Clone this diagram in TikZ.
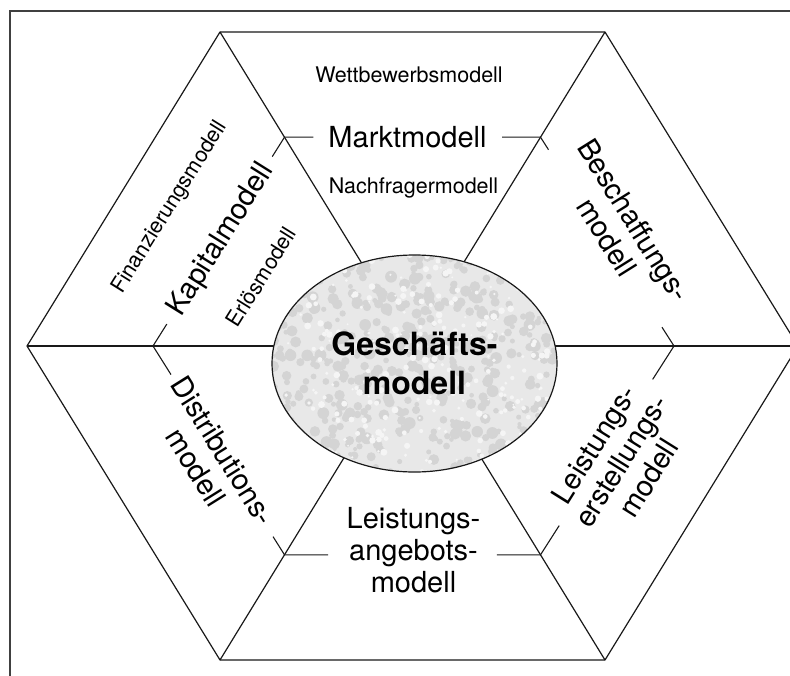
\documentclass[tikz,border=0pt]{standalone}
\usepackage{fontspec}
\setmainfont{TeX Gyre Heros}
\usetikzlibrary{shapes.geometric,calc}
\begin{document}
\begin{tikzpicture}[x=1pt,y=-1pt,
  hexline/.style={line width=1.2pt, line join=round, draw=black!90},
  bracket/.style={line width=1.1pt, draw=black!90},
  frameline/.style={line width=1.8pt, draw=black!75},
  mainlbl/.style={font=\fontsize{29}{32}\selectfont, align=center, inner sep=0pt},
  sublbl/.style={font=\fontsize{21.5}{24}\selectfont, inner sep=0pt},
  centerlbl/.style={ellipse, draw=black!90, line width=1.2pt, fill=black!9,
    minimum width=285pt, minimum height=217pt, inner sep=0pt, align=center,
    font=\bfseries\fontsize{32}{39}\selectfont},
]
\useasboundingbox (0,0) rectangle (790,675);
\clip (0,0) rectangle (790,675);
\fill[white] (0,0) rectangle (790,675);

% outer frame
\draw[frameline] (10,11) rectangle (830,720);

% hexagon
\coordinate (hc)  at (412.5,346);
\coordinate (vTL) at (220,32);
\coordinate (vTR) at (605,32);
\coordinate (vR)  at (798,346);
\coordinate (vBR) at (605,660);
\coordinate (vBL) at (220,660);
\coordinate (vL)  at (27,346);
\draw[hexline] (vTL) -- (vTR) -- (vR) -- (vBR) -- (vBL) -- (vL) -- cycle;
\foreach \v in {vTL,vTR,vR,vBR,vBL,vL} \draw[hexline] (\v) -- (hc);

% central ellipse
\node[centerlbl, path picture={
    \pgfmathsetseed{11}
    \foreach \i in {1,...,520}{
      \pgfmathsetmacro{\px}{290*rnd-145}
      \pgfmathsetmacro{\py}{222*rnd-111}
      \pgfmathsetmacro{\pr}{2+4*rnd}
      \fill[black!17] ([shift={(\px,\py)}]path picture bounding box.center) circle[radius=\pr];
    }
    \foreach \i in {1,...,300}{
      \pgfmathsetmacro{\px}{290*rnd-145}
      \pgfmathsetmacro{\py}{222*rnd-111}
      \pgfmathsetmacro{\pr}{1+2.5*rnd}
      \fill[black!4] ([shift={(\px,\py)}]path picture bounding box.center) circle[radius=\pr];
    }
  }] (gm) at (414.5,363.5) {Geschäfts-\\modell};

% inner bracket hexagon
\coordinate (iTL) at ($(hc)!0.665!(vTL)$);
\coordinate (iTR) at ($(hc)!0.665!(vTR)$);
\coordinate (iBL) at ($(hc)!0.665!(vBL)$);
\coordinate (iBR) at ($(hc)!0.665!(vBR)$);
\coordinate (iL)  at (153,346);
\coordinate (iR)  at (674,346);

\draw[bracket] (iTL) -- ($(iTL)!0.113!(iTR)$);
\draw[bracket] ($(iTL)!0.85!(iTR)$) -- (iTR);
\draw[bracket] (iL) -- ($(iL)!0.105!(iTL)$);
\draw[bracket] ($(iL)!0.907!(iTL)$) -- (iTL);
\draw[bracket] (iL) -- ($(iL)!0.137!(iBL)$);
\draw[bracket] ($(iL)!0.913!(iBL)$) -- (iBL);
\draw[bracket] (iBL) -- ($(iBL)!0.17!(iBR)$);
\draw[bracket] ($(iBL)!0.83!(iBR)$) -- (iBR);
\draw[bracket] (iBR) -- ($(iBR)!0.14!(iR)$);
\draw[bracket] ($(iBR)!0.84!(iR)$) -- (iR);
\draw[bracket] (iTR) -- ($(iTR)!0.06!(iR)$);
\draw[bracket] ($(iTR)!0.91!(iR)$) -- (iR);

% labels
\node[mainlbl] (markt) at (407.5,137) {Marktmodell};
\node[sublbl, anchor=base] (wett) at (409,82) {Wettbewerbsmodell};
\node[sublbl, anchor=base] (nach) at (413.5,193) {Nachfragermodell};

\node[mainlbl, rotate=58] (kap) at (221.5,240) {Kapitalmodell};
\node[sublbl, rotate=58] (fin) at (170,207.5) {Finanzierungsmodell};
\node[sublbl, rotate=58] (erl) at (261,277) {Erlösmodell};

\node[mainlbl, rotate=-58] (besch) at (620.5,228.5) {Beschaffungs-\\modell};
\node[mainlbl, rotate=58] (lerst) at (621,461) {Leistungs-\\erstellungs-\\modell};
\node[mainlbl] (lang) at (413.5,550.5) {Leistungs-\\angebots-\\modell};
\node[mainlbl, rotate=-58] (dist) at (209.5,459) {Distributions-\\modell};
\end{tikzpicture}
\end{document}
